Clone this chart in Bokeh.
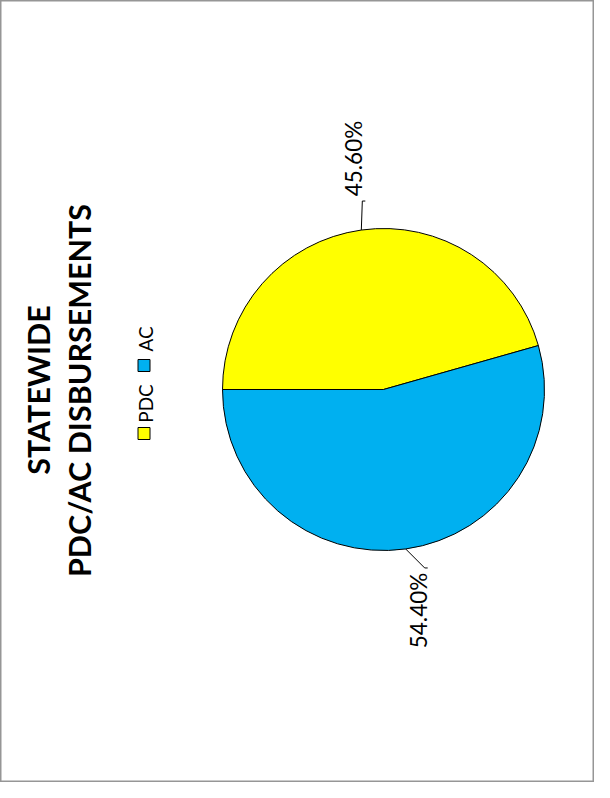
import math
from bokeh.plotting import figure
from bokeh.models import Range1d, ColumnDataSource
from bokeh.core.properties import value
from bokeh.embed import file_html
from bokeh.resources import INLINE

# ---- data ----
categories = ["PDC", "AC"]
shares = [45.60, 54.40]
colors = ["#FFFF00", "#00B0F0"]
label_texts = ["45.60%", "54.40%"]
title_lines = ["STATEWIDE", "PDC/AC DISBURSEMENTS"]

# ---- layout ----
W, H = 594, 782
FONT = "Lato"


def X(px):
    return px - 8


def Y(py):
    return 790 - py


p = figure(width=W, height=H, output_backend="svg", toolbar_location=None,
           x_range=Range1d(0, W), y_range=Range1d(0, H), min_border=0)
p.axis.visible = False
p.grid.visible = False
p.outline_line_color = "#969696"
p.outline_line_width = 2
p.background_fill_color = "white"
p.border_fill_color = "white"

cx, cy, r = X(391), Y(397), 161

# slices: chart rotated 90deg CCW, so first slice starts at 9 o'clock, clockwise
total = sum(shares)
starts, ends, mids = [], [], []
a = math.pi
for s in shares:
    a_next = a - 2 * math.pi * s / total
    starts.append(a_next)
    ends.append(a)
    mids.append((a + a_next) / 2)
    a = a_next

src = ColumnDataSource(dict(cat=categories, start=starts, end=ends, color=colors))
p.wedge(x=cx, y=cy, radius=r, start_angle="start", end_angle="end",
        fill_color="color", line_color="black", line_width=1, source=src)

# data labels with leader lines
elbow_off = [(1, 29), (19, -19)]
label_off = [(-9, 42.5), (-6, -42.5)]
for i, m in enumerate(mids):
    ex, ey = cx + r * math.cos(m), cy + r * math.sin(m)
    bx, by = ex + elbow_off[i][0], ey + elbow_off[i][1]
    p.line([ex, bx, bx + 3], [ey, by, by], line_color="black", line_width=1)
    p.text(x=[bx + label_off[i][0]], y=[by + label_off[i][1]], text=[label_texts[i]],
           angle=math.pi / 2, text_align="center", text_baseline="middle",
           text_font=value(FONT), text_font_size="22.5px", text_color="black")

# title (rotated)
p.text(x=[X(45), X(86)], y=[Y(397.5), Y(398)], text=title_lines, angle=math.pi / 2,
       text_align="center", text_baseline="middle", text_font=value(FONT),
       text_font_size="30.5px", text_font_style="bold", text_color="black")

# legend (rotated)
leg_sq_y = [Y(441), Y(373)]
leg_tx_y = [Y(411), Y(346.5)]
p.scatter(x=[X(151.5)] * 2, y=leg_sq_y, marker="square", size=12,
          fill_color=colors, line_color="black", line_width=1)
p.text(x=[X(153)] * 2, y=leg_tx_y, text=categories, angle=math.pi / 2,
       text_align="center", text_baseline="middle", text_font=value(FONT),
       text_font_size="19px", text_color="black")

open("out.html", "w").write(file_html(p, INLINE))
